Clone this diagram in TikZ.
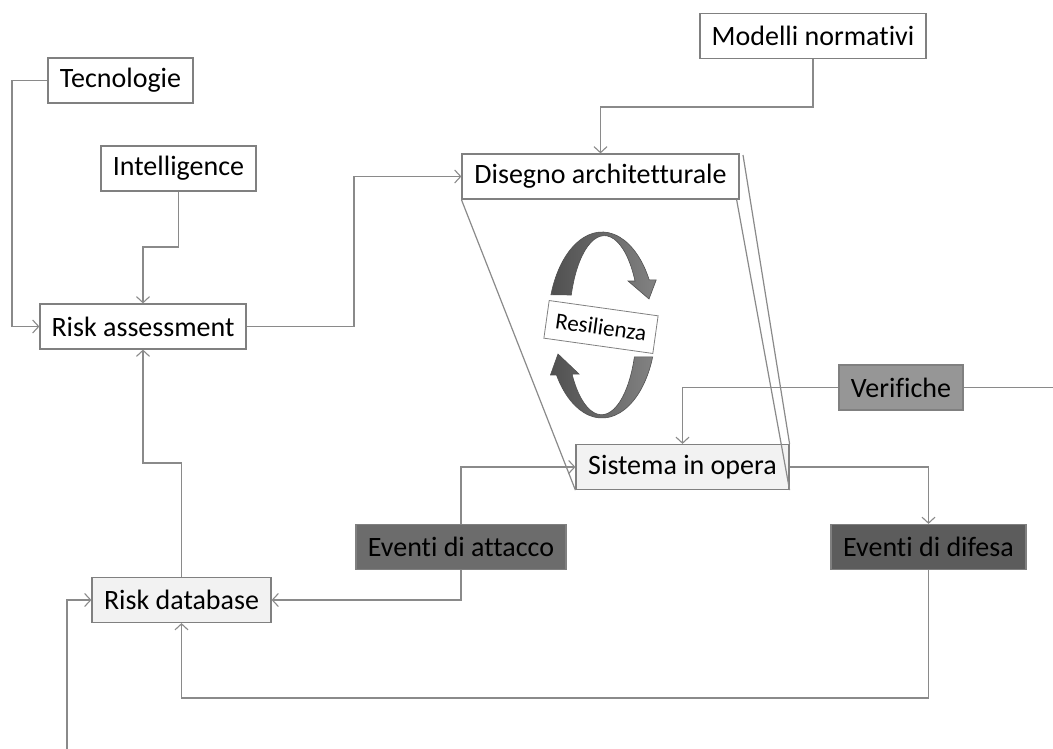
\documentclass[tikz,border=0pt]{standalone}
\usepackage{fontspec}
\setmainfont{Carlito}[Ligatures={NoCommon}]
\usetikzlibrary{arrows.meta,calc}
\definecolor{linegray}{RGB}{138,138,138}
\definecolor{boxline}{RGB}{128,128,128}
\definecolor{lightfill}{RGB}{242,242,242}
\definecolor{midfill}{RGB}{150,150,150}
\definecolor{darkfill}{RGB}{108,108,108}
\definecolor{darkerfill}{RGB}{92,92,92}
\definecolor{ringdark}{RGB}{80,80,80}
\definecolor{ringlight}{RGB}{130,130,130}
\tikzset{
  box/.style={draw=boxline, line width=1.2pt, fill=white, inner sep=0pt,
    minimum height=45pt, font=\fontsize{28}{32}\selectfont},
  conn/.style={draw=linegray, line width=1.3pt,
    -{Straight Barb[length=6pt,width=13pt,line width=1.1pt]}},
  plain/.style={draw=linegray, line width=1.2pt},
  ring/.style={draw=ringdark, line width=0.6pt, left color=ringdark, right color=ringlight},
}
\begin{document}
\begin{tikzpicture}[x=1pt,y=-1pt]
\useasboundingbox (0,0) rectangle (1053,749);

% boxes
\node[box, minimum width=145pt] (tec) at (120.5,80.5) {Tecnologie};
\node[box, minimum width=155pt] (int) at (178.5,168.5) {Intelligence};
\node[box, minimum width=206pt] (ra) at (143,326.5) {Risk assessment};
\node[box, minimum width=226pt] (mod) at (813,36) {Modelli normativi};
\node[box, minimum width=277pt] (dis) at (600.5,176.5) {Disegno architetturale};
\node[box, fill=lightfill, minimum width=213pt] (sis) at (682.5,467) {Sistema in opera};
\node[box, fill=midfill, minimum width=124pt] (ver) at (901,387.5) {Verifiche};
\node[box, fill=darkfill, minimum width=210pt] (att) at (461,547) {Eventi di attacco};
\node[box, fill=darkerfill, minimum width=195pt] (dif) at (928.5,547) {Eventi di difesa};
\node[box, fill=lightfill, minimum width=179pt] (db) at (181.5,600) {Risk database};

% free ends at the picture border
\coordinate (vend) at (1053,387.5);
\coordinate (bstart) at (67,749);
\coordinate (backtop) at (743,155);

% connectors
\draw[conn] (tec.west) -- (12,80.5) |- (ra.west);
\draw[conn] (int.south) -- (178.5,247) -| (ra.north);
\draw[conn] (ra.east) -- (354,326.5) |- (dis.west);
\draw[conn] (mod.south) |- (600.5,107) -- (dis.north);
\draw[conn] (ver.west) -| (sis.north);
\draw[plain] (ver.east) -- (vend);
\draw[conn] (att.north) |- (sis.west);
\draw[conn] (sis.east) -| (dif.north);
\draw[conn] (att.south) |- (db.east);
\draw[conn] (dif.south) -- (928.5,698) -| (db.south);
\draw[conn] (db.north) -- (181.5,463) -| (ra.south);
\draw[conn] (bstart) |- (db.west);

% slanted edges joining the two boxes
\draw[plain] (dis.south west) -- (sis.south west);
\draw[plain] ($(dis.south east)+(-3,0)$) -- (sis.south east);
\draw[plain] (backtop) -- (sis.north east);

% circular arrows
\def\cx{602}\def\cy{325}
\path[ring] (\cx,\cy) ++(199:54 and 93)
  arc[start angle=199,end angle=331,x radius=54,y radius=93]
  -- ++(7,0) -- (649,299) -- (628,281) -- ++(7,0)
  arc[start angle=331,end angle=199,x radius=35,y radius=88] -- cycle;
\path[ring] (\cx,\cy) ++(20:54 and 93)
  arc[start angle=20,end angle=147.5,x radius=54,y radius=93]
  -- ++(-6,0) -- (558,354) -- (579,374) -- ++(-7,0)
  arc[start angle=147.5,end angle=20,x radius=35,y radius=88] -- cycle;

\node[draw=boxline, line width=0.8pt, fill=white, rotate=-8, minimum width=110pt,
  minimum height=38pt, inner sep=0pt, font=\fontsize{23}{26}\selectfont] (res) at (601,327) {Resilienza};
\end{tikzpicture}
\end{document}
